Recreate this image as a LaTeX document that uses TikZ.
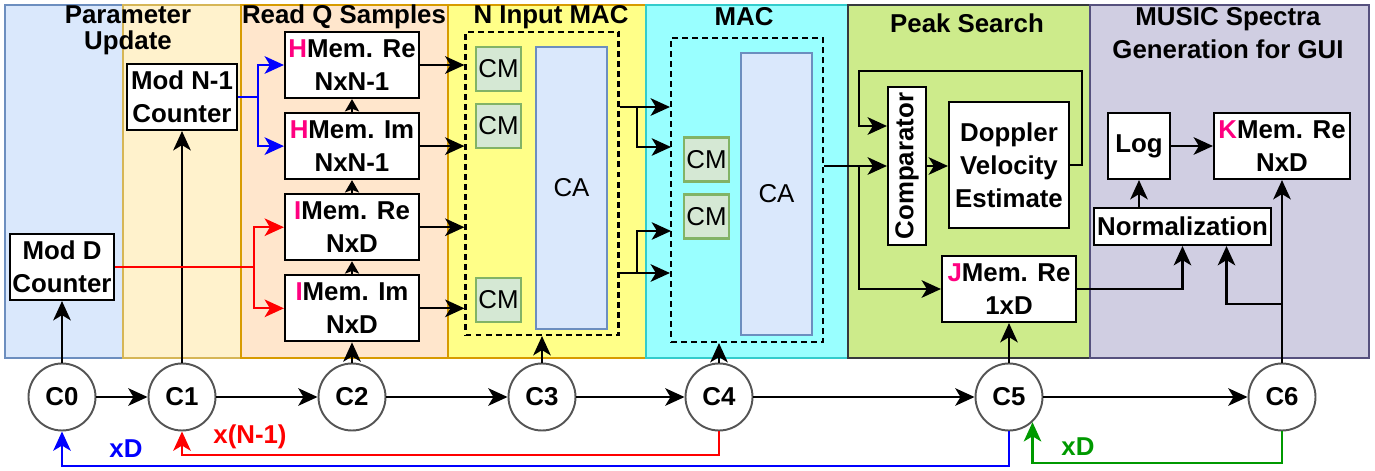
\documentclass[tikz,border=0pt]{standalone}
\usepackage{fontspec}
\usepackage{graphicx}
\setmainfont{Liberation Sans}
\usetikzlibrary{positioning,arrows.meta}
\definecolor{paraf}{HTML}{DAE8FC}\definecolor{parad}{HTML}{6C8EBF}
\definecolor{cntf}{HTML}{FFF2CC}\definecolor{cntd}{HTML}{D6B656}
\definecolor{readf}{HTML}{FFE6CC}\definecolor{readd}{HTML}{D79B00}
\definecolor{nmacf}{HTML}{FFFF88}\definecolor{nmacd}{HTML}{D79B00}
\definecolor{macf}{HTML}{99FFFF}\definecolor{macd}{HTML}{33CCCC}
\definecolor{peakf}{HTML}{CDEB8B}\definecolor{peakd}{HTML}{36393D}
\definecolor{musf}{HTML}{D0CEE2}\definecolor{musd}{HTML}{56517E}
\definecolor{cmfill}{HTML}{D5E8D4}\definecolor{cmline}{HTML}{82B366}
\definecolor{memkey}{HTML}{FF0080}
\definecolor{stateline}{HTML}{555555}
\definecolor{fbgreen}{HTML}{009900}
\newcommand{\pk}[1]{\textcolor{memkey}{#1}}
\begin{document}
\begin{tikzpicture}[font=\fontsize{14.7}{18.8}\selectfont\bfseries,
  box/.style={draw, fill=white, line width=1.2pt, align=center, inner sep=1pt},
  membox/.style={box, minimum width=2.68cm, minimum height=1.32cm},
  cmbox/.style={draw=cmline, fill=cmfill, line width=1.2pt, minimum width=0.9cm, minimum height=0.88cm, inner sep=0pt, font=\fontsize{14.7}{18.8}\selectfont\mdseries},
  cabox/.style={draw=parad, fill=paraf, line width=1.2pt, minimum width=1.42cm, minimum height=5.64cm, font=\fontsize{14.7}{18.8}\selectfont\mdseries},
  macbox/.style={draw, line width=1.2pt, dash pattern=on 3.4pt off 2.3pt, minimum width=3.06cm, minimum height=6.06cm},
  state/.style={circle, draw=stateline, fill=white, line width=1.1pt, minimum size=1.34cm, inner sep=0pt},
  arr/.style={-{Stealth[length=11pt, width=10pt, inset=3pt]}, line width=1.2pt},
  arrs/.style={-{Stealth[length=7pt, width=8pt, inset=1.5pt]}, line width=1.2pt}]
\useasboundingbox (0,0) rectangle (27.5,9.4);
% stage panels
\draw[line width=1.2pt, draw=parad, fill=paraf] (0.1,2.24) rectangle (2.46,9.3);
\draw[line width=1.2pt, draw=cntd, fill=cntf] (2.46,2.24) rectangle (4.82,9.3);
\draw[line width=1.2pt, draw=readd, fill=readf] (4.82,2.24) rectangle (8.96,9.3);
\draw[line width=1.2pt, draw=nmacd, fill=nmacf] (8.96,2.24) rectangle (12.92,9.3);
\draw[line width=1.2pt, draw=macd, fill=macf] (12.92,2.24) rectangle (16.96,9.3);
\draw[line width=1.2pt, draw=peakd, fill=peakf] (16.96,2.24) rectangle (21.8,9.3);
\draw[line width=1.2pt, draw=musd, fill=musf] (21.8,2.24) rectangle (27.38,9.3);
\node[align=center, font=\fontsize{14.7}{15}\selectfont\bfseries] (tpar) at (2.56,8.8) {Parameter\\Update};
\node (tread) at (6.88,9.06) {Read Q Samples};
\node (tnmac) at (11.02,9.06) {N Input MAC};
\node (tmac) at (14.88,9.06) {MAC};
\node (tpeak) at (19.34,8.94) {Peak Search};
\node[align=center] (tmus) at (24.56,8.73) {MUSIC Spectra\\Generation for GUI};
% counters and memories
\node[box, minimum width=2.08cm, minimum height=1.32cm] (modD) at (1.24,4.06) {Mod D\\Counter};
\node[box, minimum width=2.2cm, minimum height=1.32cm] (modN) at (3.64,7.46) {Mod N-1\\Counter};
\node[membox] (hre) at (7.04,8.1) {\pk{H}Mem. Re\\NxN-1};
\node[membox, below=0.26cm of hre] (him) {\pk{H}Mem. Im\\NxN-1};
\node[membox, below=0.26cm of him] (ire) {\pk{I}Mem. Re\\NxD};
\node[membox, below=0.26cm of ire] (iim) {\pk{I}Mem. Im\\NxD};
% MAC units
\node[macbox] (nmac) at (10.84,5.73) {};
\node[cmbox] (cmA) at (9.97,8.02) {CM};
\node[cmbox] (cmB) at (9.97,6.88) {CM};
\node[cmbox] (cmC) at (9.97,3.4) {CM};
\node[cabox] (caA) at (11.43,5.64) {CA};
\node[macbox, minimum width=3.04cm, minimum height=6.08cm] (mac) at (14.94,5.6) {};
\node[cmbox] (cmD) at (14.13,6.21) {CM};
\node[cmbox] (cmE) at (14.13,5.07) {CM};
\node[cabox] (caB) at (15.53,5.52) {CA};
% peak search and output
\node[box, minimum width=0.76cm, minimum height=3.16cm] (comp) at (18.14,6.08) {\rotatebox{90}{Comparator}};
\node[box, minimum width=2.4cm, minimum height=2.52cm] (dop) at (20.18,6.1) {Doppler\\Velocity\\Estimate};
\node[membox] (jre) at (20.18,3.62) {\pk{J}Mem. Re\\1xD};
\node[box, minimum width=1.24cm, minimum height=1.32cm] (logb) at (22.78,6.48) {Log};
\node[membox, minimum width=2.72cm] (kre) at (25.64,6.48) {\pk{K}Mem. Re\\NxD};
\node[box, minimum width=3.54cm, minimum height=0.74cm] (norm) at (23.65,4.87) {Normalization};
% state machine
\node[state] (c0) at (1.24,1.46) {C0};
\node[state] (c1) at (3.64,1.46) {C1};
\node[state] (c2) at (7.04,1.46) {C2};
\node[state] (c3) at (10.84,1.46) {C3};
\node[state] (c4) at (14.38,1.46) {C4};
\node[state] (c5) at (20.18,1.46) {C5};
\node[state] (c6) at (25.64,1.46) {C6};
\draw[arr] (c0) -- (c1);
\draw[arr] (c1) -- (c2);
\draw[arr] (c2) -- (c3);
\draw[arr] (c3) -- (c4);
\draw[arr] (c4) -- (c5);
\draw[arr] (c5) -- (c6);
\draw[arr] (c0) -- (modD);
\draw[arr] (c1) -- (modN);
\draw[arr] (c2) -- (iim);
\draw[arr] (c3) -- (nmac);
\draw[arr] (c4) -- (c4 |- mac.south);
\draw[arr] (c5) -- (jre);
\draw[arr] (c6) -- (kre);
% address lines
\draw[arr, red] (modD.east) -- (5.08,4.06) |- (ire.west);
\draw[arr, red] (5.08,4.06) |- (iim.west);
\draw[arr, blue] (modN.east) -- (5.16,7.46) |- (hre.west);
\draw[arr, blue] (5.16,7.46) |- (him.west);
\draw[arrs] (iim) -- (ire);
\draw[arrs] (ire) -- (him);
\draw[arrs] (him) -- (hre);
\draw[arr] (hre.east) -- (hre.east -| nmac.west);
\draw[arr] (him.east) -- (him.east -| nmac.west);
\draw[arr] (ire.east) -- (ire.east -| nmac.west);
\draw[arr] (iim.east) -- (iim.east -| nmac.west);
% partial sums into MAC
\coordinate (sa) at (12.74,7.26);
\coordinate (sb) at (12.74,3.94);
\draw[arr] (sa -| nmac.east) -- (sa) -- (sa -| mac.west);
\draw[arr] (sa) |- (13.42,6.46);
\draw[arr] (sb -| nmac.east) -- (sb) -- (sb -| mac.west);
\draw[arr] (sb) |- (13.42,4.78);
% peak search
\coordinate (ps) at (17.18,6.08);
\draw[arr] (mac.east |- comp.west) -- (comp.west);
\draw[arr] (ps) |- (jre.west);
\draw[arr] (comp.east) -- (comp.east -| dop.west);
\draw[arr] (dop.east) -- (21.64,6.1) |- (17.18,7.98) |- ([yshift=0.8cm]comp.west);
\draw[arr] (jre.east) -| (norm.south);
\draw[arr] (25.64,3.32) -| ([xshift=0.88cm]norm.south);
\draw[arr] (logb.south |- norm.north) -- (logb.south);
\draw[arr] (logb.east) -- (kre.west);
% loop-back counts
\draw[arr, blue] (c5.south) -- ++(0,-0.69) -| (c0.south);
\draw[arr, red] (c4.south) -- ++(0,-0.47) -| (c1.south);
\draw[arr, fbgreen] (c6.south) -- ++(0,-0.63) -| (c5.-47);
\node[blue] (lxd) at (2.52,0.42) {xD};
\node[red] (lxn) at (5.0,0.66) {x(N-1)};
\node[fbgreen] (lxg) at (21.56,0.46) {xD};
\end{tikzpicture}
\end{document}
